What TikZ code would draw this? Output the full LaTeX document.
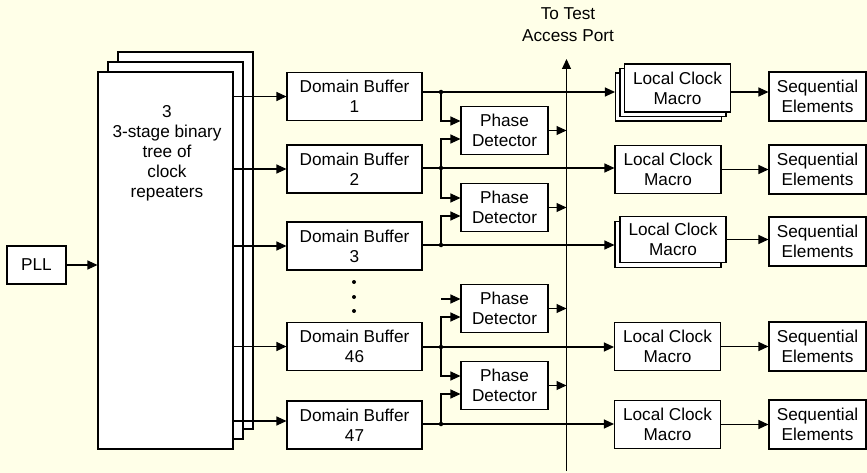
\documentclass[tikz,border=0pt]{standalone}
\usepackage{fontspec}
\setmainfont{Liberation Sans}
\usetikzlibrary{arrows.meta}
\definecolor{paper}{RGB}{255,255,232}

\begin{document}
\begin{tikzpicture}[x=1pt,y=-1pt,
  lbl/.style={font=\fontsize{17.2pt}{20pt}\selectfont, align=center, inner sep=0pt},
  blk/.style={lbl, draw=black, fill=white, line width=1.05pt},
  arr/.style={line width=1.05pt, -{Triangle[length=10pt,width=9pt]}},
  dot/.style={circle, fill=black, inner sep=0pt, minimum size=4.5pt},
  dbbox/.style={blk, minimum width=135pt, minimum height=48pt},
  pdbox/.style={blk, minimum width=87pt, minimum height=48pt},
  lcmbox/.style={blk, minimum width=106pt, minimum height=48pt},
  sebox/.style={blk, minimum width=97pt, minimum height=49pt},
  treebox/.style={blk, minimum width=135pt, minimum height=377pt}
]
\fill[paper] (0,0) rectangle (867,473);
\useasboundingbox (0,0) rectangle (867,473);

% PLL and the stacked repeater tree
\node[blk, minimum width=59pt, minimum height=38pt] (pll) at (36.5,265) {PLL};
\node[treebox] (tree3) at (185.5,240.5) {};
\node[treebox] (tree2) at (175.5,250.5) {};
\node[treebox] (tree)  at (165.5,260.5) {};
\node[lbl, anchor=north] (treetext) at (167,105.5)
  {3\\3-stage binary\\tree of\\clock\\repeaters};
\draw[arr] (pll.east) -- (pll.east -| tree.west);

% domain buffers
\node[dbbox] (db1)  at (354.5,96.5)  {Domain Buffer\\1};
\node[dbbox] (db2)  at (354.5,169)   {Domain Buffer\\2};
\node[dbbox] (db3)  at (354.5,246)   {Domain Buffer\\3};
\node[dbbox] (db46) at (354.5,346.5) {Domain Buffer\\46};
\node[dbbox] (db47) at (354.5,425)   {Domain Buffer\\47};

\node[dot, minimum size=4pt] (vd1) at (354,282) {};
\node[dot, minimum size=4pt] (vd2) at (354,297) {};
\node[dot, minimum size=4pt] (vd3) at (354,311) {};

\draw[arr] (tree.east |- db1.west)  -- (db1.west);
\draw[arr] (tree.east |- db2.west)  -- (db2.west);
\draw[arr] (tree.east |- db3.west)  -- (db3.west);
\draw[arr] (tree.east |- db46.west) -- (db46.west);
\draw[arr] ([yshift=4pt]db47.west -| tree.east) -- ([yshift=4pt]db47.west);

% branch points on the buffer outputs
\coordinate (j1)  at (441,92);
\coordinate (j2)  at (441,168);
\coordinate (j3)  at (441,245);
\coordinate (j46) at (441,347);
\coordinate (j47) at (441,424);
\coordinate (pd3in) at (441,299);

% phase detectors
\node[pdbox] (pd1) at (504.5,130.5) {Phase\\Detector};
\node[pdbox] (pd2) at (504.5,207.5) {Phase\\Detector};
\node[pdbox] (pd3) at (504.5,308.5) {Phase\\Detector};
\node[pdbox] (pd4) at (504.5,385.5) {Phase\\Detector};

\draw[arr] (j1)  |- ([yshift=9.5pt]pd1.west);
\draw[arr] (j2)  |- ([yshift=-8.5pt]pd1.west);
\draw[arr] (j2)  |- ([yshift=9.5pt]pd2.west);
\draw[arr] (j3)  |- ([yshift=-8.5pt]pd2.west);
\draw[arr] (pd3in) -- (pd3in -| pd3.west);
\draw[arr] (j46) |- ([yshift=-8.5pt]pd3.west);
\draw[arr] (j46) |- ([yshift=9.5pt]pd4.west);
\draw[arr] (j47) |- ([yshift=-8.5pt]pd4.west);

% test access bus
\coordinate (bustop) at (566.5,59);
\coordinate (busbot) at (566.5,471);
\draw[arr] (busbot) -- (bustop);
\node[lbl, font=\fontsize{17.2pt}{22pt}\selectfont] (tap) at (568,25) {To Test\\Access Port};
\draw[arr] (pd1.east) -- (pd1.east -| bustop);
\draw[arr] (pd2.east) -- (pd2.east -| bustop);
\draw[arr] (pd3.east) -- (pd3.east -| bustop);
\draw[arr] (pd4.east) -- (pd4.east -| bustop);

% local clock macros
\node[lcmbox] (lcm1a) at (668.5,97) {};
\node[lcmbox] (lcm1b) at (673,92.5) {};
\node[lcmbox] (lcm1)  at (677.5,88) {Local Clock\\Macro};
\node[lcmbox] (lcm2)  at (668,169.5) {Local Clock\\Macro};
\node[lcmbox, minimum height=46pt] (lcm3a) at (668,244.5) {};
\node[lcmbox, minimum height=46pt] (lcm3)  at (673,239.5) {Local Clock\\Macro};
\node[lcmbox] (lcm4)  at (667.5,346.5) {Local Clock\\Macro};
\node[lcmbox] (lcm5)  at (667.5,424.5) {Local Clock\\Macro};

\draw[arr] (db1.east |- j1)   -- (j1 -| lcm1a.west);
\draw[arr] (db2.east |- j2)   -- (j2 -| lcm2.west);
\draw[arr] (db3.east |- j3)   -- (j3 -| lcm3a.west);
\draw[arr] (db46.east |- j46) -- (j46 -| lcm4.west);
\draw[arr] (db47.east |- j47) -- (j47 -| lcm5.west);

\node[dot] (j1dot)  at (j1)  {};
\node[dot] (j2dot)  at (j2)  {};
\node[dot] (j3dot)  at (j3)  {};
\node[dot] (j46dot) at (j46) {};
\node[dot] (j47dot) at (j47) {};

% sequential elements
\node[sebox] (se1) at (817.5,96.5)  {Sequential\\Elements};
\node[sebox] (se2) at (817.5,169.5) {Sequential\\Elements};
\node[sebox] (se3) at (817.5,241.5) {Sequential\\Elements};
\node[sebox] (se4) at (817.5,346.5) {Sequential\\Elements};
\node[sebox] (se5) at (817.5,424.5) {Sequential\\Elements};

\draw[arr] ([yshift=-4pt]lcm1.east) -- ([yshift=-4pt]lcm1.east -| se1.west);
\draw[arr] (lcm2.east) -- (lcm2.east -| se2.west);
\draw[arr] (lcm3.east) -- (lcm3.east -| se3.west);
\draw[arr] (lcm4.east) -- (lcm4.east -| se4.west);
\draw[arr] (lcm5.east) -- (lcm5.east -| se5.west);
\end{tikzpicture}
\end{document}
